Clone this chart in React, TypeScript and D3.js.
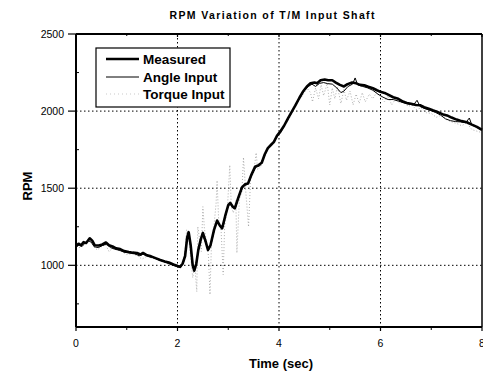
import React from "react";
import * as d3 from "d3";

const title = "RPM Variation of T/M Input Shaft";
const xLabel = "Time (sec)";
const yLabel = "RPM";
const xTicks = [0, 2, 4, 6, 8];
const xMinorTicks = [1, 3, 5, 7];
const yTicks = [1000, 1500, 2000, 2500];
const yMinorTicks = [750, 1250, 1750, 2250];
const seriesNames = ["Measured", "Angle Input", "Torque Input"];

const measured: [number, number][] = [
  [0.0, 1125], [0.05, 1140], [0.1, 1130], [0.15, 1150], [0.2, 1145], [0.27, 1175], [0.32, 1160],
  [0.37, 1130], [0.45, 1128], [0.52, 1135], [0.59, 1148], [0.65, 1130], [0.72, 1122], [0.79, 1110],
  [0.87, 1105], [0.95, 1092], [1.04, 1086], [1.12, 1082], [1.2, 1080], [1.27, 1070], [1.32, 1080],
  [1.4, 1065], [1.48, 1058], [1.58, 1045], [1.66, 1035], [1.75, 1025], [1.83, 1018], [1.92, 1005],
  [2.0, 995], [2.05, 990], [2.1, 1010], [2.15, 1060], [2.19, 1180], [2.22, 1215], [2.26, 1130],
  [2.3, 1000], [2.33, 965], [2.37, 1010], [2.41, 1100], [2.46, 1170], [2.5, 1210], [2.55, 1160],
  [2.6, 1100], [2.65, 1130], [2.72, 1230], [2.78, 1290], [2.83, 1260], [2.88, 1240], [2.94, 1320],
  [3.0, 1390], [3.04, 1405], [3.09, 1380], [3.13, 1370], [3.2, 1440], [3.27, 1505], [3.33, 1525],
  [3.39, 1530], [3.46, 1590], [3.53, 1640], [3.6, 1650], [3.66, 1665], [3.72, 1720], [3.78, 1760],
  [3.84, 1780], [3.9, 1800], [3.96, 1840], [4.02, 1865], [4.1, 1905], [4.18, 1955], [4.25, 1995],
  [4.32, 2035], [4.4, 2085], [4.47, 2125], [4.55, 2160], [4.62, 2180], [4.7, 2185], [4.75, 2180],
  [4.82, 2200], [4.9, 2205], [4.97, 2200], [5.05, 2200], [5.12, 2185], [5.2, 2170], [5.28, 2160],
  [5.35, 2175], [5.44, 2185], [5.52, 2180], [5.6, 2170], [5.68, 2168], [5.76, 2158], [5.85, 2148],
  [5.93, 2135], [6.0, 2125], [6.08, 2118], [6.16, 2105], [6.25, 2090], [6.35, 2080], [6.45, 2060],
  [6.52, 2052], [6.6, 2048], [6.7, 2040], [6.78, 2038], [6.86, 2025], [6.95, 2015], [7.03, 2005],
  [7.12, 1995], [7.22, 1980], [7.31, 1972], [7.4, 1958], [7.5, 1945], [7.6, 1935], [7.7, 1928],
  [7.8, 1912], [7.9, 1898], [8.0, 1878],
];

const angleInput: [number, number][] = [
  [0.0, 1118], [0.06, 1132], [0.12, 1122], [0.18, 1145], [0.24, 1160], [0.3, 1150], [0.36, 1120],
  [0.44, 1115], [0.52, 1128], [0.6, 1138], [0.68, 1115], [0.76, 1105], [0.85, 1098], [0.95, 1085],
  [1.05, 1080], [1.15, 1075], [1.25, 1062], [1.32, 1072], [1.42, 1058], [1.52, 1050], [1.62, 1036],
  [1.72, 1025], [1.82, 1012], [1.92, 1000], [2.0, 990], [2.06, 985], [2.12, 1020], [2.17, 1120],
  [2.21, 1205], [2.25, 1140], [2.29, 1010], [2.33, 970], [2.38, 1030], [2.43, 1130], [2.49, 1200],
  [2.55, 1150], [2.61, 1095], [2.67, 1150], [2.74, 1250], [2.79, 1280], [2.85, 1245], [2.9, 1250],
  [2.97, 1360], [3.03, 1400], [3.1, 1370], [3.15, 1380], [3.22, 1460], [3.3, 1515], [3.38, 1525],
  [3.46, 1585], [3.54, 1635], [3.62, 1645], [3.7, 1700], [3.78, 1755], [3.86, 1785], [3.95, 1830],
  [4.03, 1860], [4.12, 1915], [4.2, 1960], [4.3, 2025], [4.4, 2080], [4.5, 2135], [4.58, 2160],
  [4.65, 2175], [4.72, 2160], [4.8, 2180], [4.88, 2185], [4.96, 2178], [5.05, 2175], [5.14, 2150],
  [5.22, 2120], [5.28, 2130], [5.36, 2160], [5.45, 2175], [5.5, 2215], [5.55, 2170], [5.65, 2160],
  [5.75, 2150], [5.85, 2135], [5.95, 2110], [6.05, 2090], [6.15, 2075], [6.25, 2075], [6.35, 2065],
  [6.45, 2055], [6.55, 2045], [6.65, 2040], [6.72, 2070], [6.78, 2030], [6.88, 2015], [6.98, 2005],
  [7.08, 1992], [7.18, 1975], [7.28, 1950], [7.38, 1938], [7.48, 1932], [7.58, 1930], [7.68, 1925],
  [7.75, 1955], [7.8, 1910], [7.9, 1895], [8.0, 1875],
];

const torqueInput: [number, number][] = [
  [0.0, 1120], [0.08, 1115], [0.15, 1140], [0.22, 1150], [0.28, 1160], [0.35, 1120], [0.42, 1100],
  [0.5, 1120], [0.58, 1135], [0.65, 1090], [0.72, 1110], [0.8, 1100], [0.9, 1090], [1.0, 1070],
  [1.1, 1075], [1.2, 1065], [1.3, 1040], [1.4, 1060], [1.5, 1045], [1.6, 1040], [1.7, 1025],
  [1.8, 1010], [1.9, 1000], [2.0, 990], [2.05, 985], [2.1, 1020], [2.15, 1100], [2.18, 1230],
  [2.22, 1180], [2.26, 1050], [2.3, 920], [2.34, 1000], [2.38, 830], [2.4, 1250], [2.43, 1180],
  [2.47, 1090], [2.5, 1380], [2.53, 1240], [2.57, 1150], [2.61, 1060], [2.64, 810], [2.67, 1150],
  [2.72, 1260], [2.76, 1400], [2.78, 1550], [2.81, 1300], [2.86, 1220], [2.9, 940], [2.93, 1260],
  [2.98, 1350], [3.03, 1650], [3.06, 1380], [3.1, 1340], [3.15, 1420], [3.17, 1080], [3.22, 1430],
  [3.27, 1480], [3.3, 1700], [3.34, 1500], [3.4, 1250], [3.44, 1560], [3.5, 1600], [3.55, 1730],
  [3.58, 1620], [3.64, 1640], [3.7, 1700], [3.76, 1750], [3.82, 1770], [3.9, 1790], [4.0, 1850],
  [4.1, 1900], [4.2, 1950], [4.3, 2020], [4.4, 2070], [4.5, 2120], [4.55, 2150], [4.62, 2120],
  [4.66, 2060], [4.72, 2150], [4.78, 2080], [4.83, 2170], [4.88, 2100], [4.95, 2180], [5.0, 2040],
  [5.05, 2150], [5.1, 2080], [5.15, 2160], [5.22, 2050], [5.28, 2140], [5.33, 2070], [5.4, 2130],
  [5.46, 2040], [5.52, 2110], [5.58, 2050], [5.64, 2120], [5.7, 2060], [5.78, 2110], [5.85, 2080],
  [5.92, 2120], [6.0, 2090], [6.08, 2060], [6.15, 2100], [6.22, 2040], [6.3, 2080], [6.38, 2050],
  [6.46, 2070], [6.54, 2030], [6.62, 2040], [6.7, 2010], [6.8, 2020], [6.9, 1990], [7.0, 1985],
  [7.1, 1960], [7.2, 1975], [7.3, 1945], [7.4, 1930], [7.5, 1920], [7.6, 1905], [7.7, 1925],
  [7.8, 1880], [7.9, 1870], [8.0, 1860],
];

const W = 483;
const H = 374;
const L = 76;
const R = 482;
const T = 34;
const B = 327;

export default function App() {
  const x = d3.scaleLinear().domain([0, 8]).range([L, R]);
  const y = d3.scaleLinear().domain([600, 2500]).range([B, T]);
  const line = d3
    .line<[number, number]>()
    .x((d) => x(d[0]))
    .y((d) => y(d[1]))
    .curve(d3.curveLinear);
  const font = "Arial, 'Liberation Sans', Helvetica, sans-serif";
  const legendRows = [59, 77, 94];
  const legendStyles = [
    { w: 2.6, c: "#000", dash: undefined as string | undefined },
    { w: 1, c: "#000", dash: undefined as string | undefined },
    { w: 0.8, c: "#bbb", dash: "1,3" },
  ];

  return (
    <svg
      width={W}
      height={H}
      style={{ position: "absolute", left: 0, top: 0, background: "#fff" }}
      fontFamily={font}
    >
      <rect x={0} y={0} width={W} height={H} fill="#fff" />
      <text x={272} y={19} textAnchor="middle" fontSize={10.5} fontWeight="bold" textLength={205} lengthAdjust="spacing">
        {title}
      </text>
      {/* grid */}
      {xTicks.slice(1, -1).map((t) => (
        <line key={"gx" + t} x1={x(t)} x2={x(t)} y1={T} y2={B} stroke="#000" strokeWidth={1} strokeDasharray="1.5,2.5" />
      ))}
      {yTicks.slice(0, -1).map((t) => (
        <line key={"gy" + t} x1={L} x2={R} y1={y(t)} y2={y(t)} stroke="#000" strokeWidth={1} strokeDasharray="1.5,2.5" />
      ))}
      {/* series */}
      <path d={line(torqueInput) || ""} fill="none" stroke="#999" strokeWidth={0.8} strokeDasharray="1,2" />
      <path d={line(angleInput) || ""} fill="none" stroke="#000" strokeWidth={1} />
      <path d={line(measured) || ""} fill="none" stroke="#000" strokeWidth={2.6} strokeLinejoin="round" />
      {/* frame */}
      <line x1={L} x2={L} y1={T} y2={B} stroke="#000" strokeWidth={2} />
      <line x1={L} x2={R} y1={B} y2={B} stroke="#000" strokeWidth={2} />
      <line x1={L} x2={R} y1={T} y2={T} stroke="#000" strokeWidth={2} />
      <line x1={R} x2={R} y1={T} y2={B} stroke="#000" strokeWidth={1.5} />
      {/* x ticks */}
      {xTicks.map((t) => (
        <g key={"xt" + t}>
          <line x1={x(t)} x2={x(t)} y1={B} y2={B + 4} stroke="#000" strokeWidth={1.2} />
          <line x1={x(t)} x2={x(t)} y1={T} y2={T + 3} stroke="#000" strokeWidth={1.2} />
          <text x={x(t)} y={347} textAnchor="middle" fontSize={10.5}>
            {t}
          </text>
        </g>
      ))}
      {xMinorTicks.map((t) => (
        <g key={"xm" + t}>
          <line x1={x(t)} x2={x(t)} y1={B} y2={B + 3} stroke="#000" strokeWidth={1} />
          <line x1={x(t)} x2={x(t)} y1={T} y2={T + 2} stroke="#000" strokeWidth={1} />
        </g>
      ))}
      {/* y ticks */}
      {yTicks.map((t) => (
        <g key={"yt" + t}>
          <line x1={L - 8} x2={L} y1={y(t)} y2={y(t)} stroke="#000" strokeWidth={1.2} />
          <text x={64} y={y(t) + 3.8} textAnchor="end" fontSize={10.5}>
            {t}
          </text>
        </g>
      ))}
      {yMinorTicks.map((t) => (
        <line key={"ym" + t} x1={L} x2={L + 3} y1={y(t)} y2={y(t)} stroke="#000" strokeWidth={1} />
      ))}
      {/* axis labels */}
      <text x={281} y={368} textAnchor="middle" fontSize={13} fontWeight="bold">
        {xLabel}
      </text>
      <text transform="translate(32,186) rotate(-90)" textAnchor="middle" fontSize={13} fontWeight="bold">
        {yLabel}
      </text>
      {/* legend */}
      <rect x={96} y={48} width={134} height={59} fill="#fff" stroke="#000" strokeWidth={1.2} />
      {seriesNames.map((n, i) => (
        <g key={n}>
          <line
            x1={106}
            x2={139}
            y1={legendRows[i]}
            y2={legendRows[i]}
            stroke={legendStyles[i].c}
            strokeWidth={legendStyles[i].w}
            strokeDasharray={legendStyles[i].dash}
          />
          <text x={143} y={legendRows[i] + 5} fontSize={13.5} fontWeight="bold">
            {n}
          </text>
        </g>
      ))}
    </svg>
  );
}
